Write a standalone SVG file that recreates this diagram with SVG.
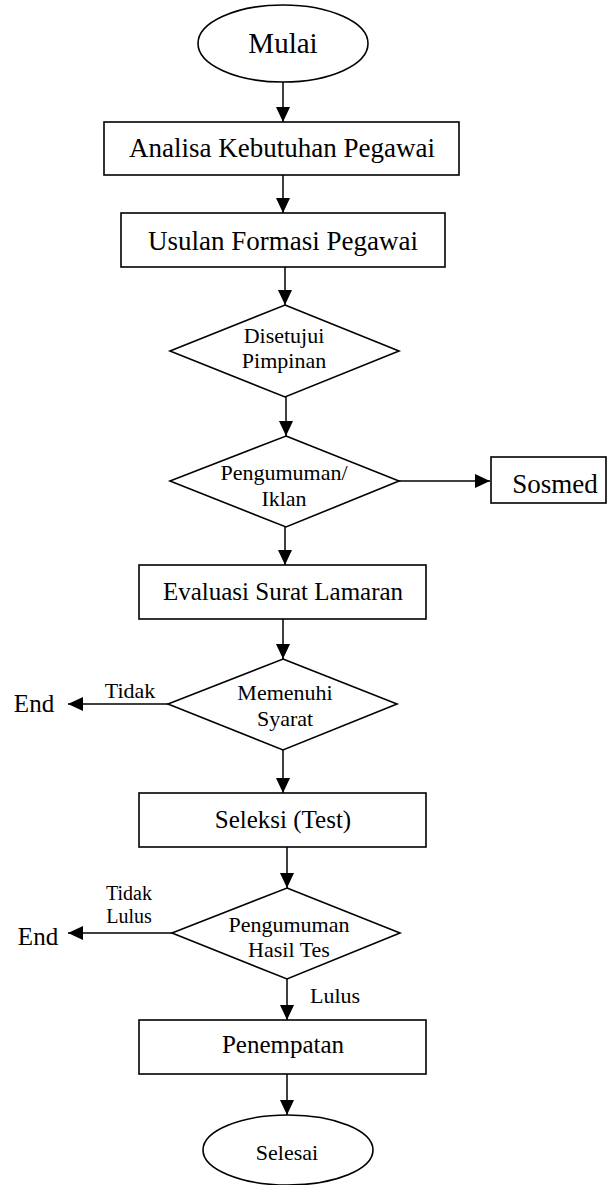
<svg xmlns="http://www.w3.org/2000/svg" width="607" height="1185" viewBox="0 0 607 1185">
<defs>
<marker id="ah" markerUnits="userSpaceOnUse" markerWidth="16" markerHeight="14" refX="15" refY="7" orient="auto">
<path d="M0,0 L15,7 L0,14 z" fill="#000"/>
</marker>
<style>
.s{fill:#fff;stroke:#000;stroke-width:1.6}
.c{fill:none;stroke:#000;stroke-width:1.5;marker-end:url(#ah)}
text{font-family:"Liberation Serif","Times New Roman",serif;fill:#000;text-anchor:middle}
.big{font-size:27px}
.mid{font-size:25px}
.sm{font-size:22px}
.xs{font-size:20px}
</style>
</defs>
<rect width="607" height="1185" fill="#fff"/>
<g id="connectors">
<line class="c" x1="283" y1="82" x2="283" y2="122"/>
<line class="c" x1="283" y1="175" x2="283" y2="213"/>
<line class="c" x1="285" y1="267" x2="285" y2="305"/>
<line class="c" x1="286" y1="397" x2="286" y2="436"/>
<line class="c" x1="399" y1="481" x2="490" y2="481"/>
<line class="c" x1="285" y1="527" x2="285" y2="565"/>
<line class="c" x1="283" y1="619" x2="283" y2="659"/>
<line class="c" x1="168" y1="704" x2="68" y2="704"/>
<line class="c" x1="283" y1="750" x2="283" y2="793"/>
<line class="c" x1="287" y1="847" x2="287" y2="888"/>
<line class="c" x1="172" y1="933" x2="68" y2="933"/>
<line class="c" x1="287" y1="979" x2="287" y2="1020"/>
<line class="c" x1="287" y1="1074" x2="287" y2="1115"/>
<text class="sm" x="130" y="698">Tidak</text>
<text class="xs" x="129" y="900">Tidak</text>
<text class="xs" x="129" y="923">Lulus</text>
<text class="sm" x="335" y="1003">Lulus</text>
</g>
<g id="mulai">
<ellipse class="s" cx="283" cy="43.5" rx="85" ry="38.5"/>
<text style="font-size:29px" x="283" y="53">Mulai</text>
</g>
<g id="analisa">
<rect class="s" x="104" y="122" width="355" height="53"/>
<text class="big" x="282" y="157">Analisa Kebutuhan Pegawai</text>
</g>
<g id="usulan">
<rect class="s" x="121" y="213" width="324" height="54"/>
<text class="big" x="283" y="250">Usulan Formasi Pegawai</text>
</g>
<g id="disetujui">
<polygon class="s" points="285,305 399,351 285,397 170,351"/>
<text class="sm" x="284" y="343">Disetujui</text>
<text class="sm" x="284" y="368">Pimpinan</text>
</g>
<g id="pengumuman-iklan">
<polygon class="s" points="286,436 399,481 286,527 170,481"/>
<text class="sm" x="284" y="480">Pengumuman/</text>
<text class="sm" x="284" y="506">Iklan</text>
</g>
<g id="sosmed">
<rect class="s" x="491" y="457" width="115" height="46"/>
<text class="big" x="555" y="493">Sosmed</text>
</g>
<g id="evaluasi">
<rect class="s" x="139" y="565" width="287" height="54"/>
<text class="mid" x="283" y="600">Evaluasi Surat Lamaran</text>
</g>
<g id="memenuhi">
<polygon class="s" points="283,659 397,704 283,750 168,704"/>
<text class="sm" x="285" y="700">Memenuhi</text>
<text class="sm" x="285" y="726">Syarat</text>
</g>
<g id="end1">
<text class="mid" x="34" y="712">End</text>
</g>
<g id="seleksi">
<rect class="s" x="139" y="793" width="287" height="54"/>
<text class="mid" x="283" y="828">Seleksi (Test)</text>
</g>
<g id="hasil-tes">
<polygon class="s" points="287,888 400,933 287,979 172,933"/>
<text class="sm" x="289" y="932">Pengumuman</text>
<text class="sm" x="289" y="957">Hasil Tes</text>
</g>
<g id="end2">
<text class="mid" x="38" y="945">End</text>
</g>
<g id="penempatan">
<rect class="s" x="139" y="1020" width="287" height="54"/>
<text class="mid" x="283" y="1053">Penempatan</text>
</g>
<g id="selesai">
<ellipse class="s" cx="288" cy="1150" rx="85" ry="35"/>
<text class="sm" x="287" y="1160">Selesai</text>
</g>
</svg>
